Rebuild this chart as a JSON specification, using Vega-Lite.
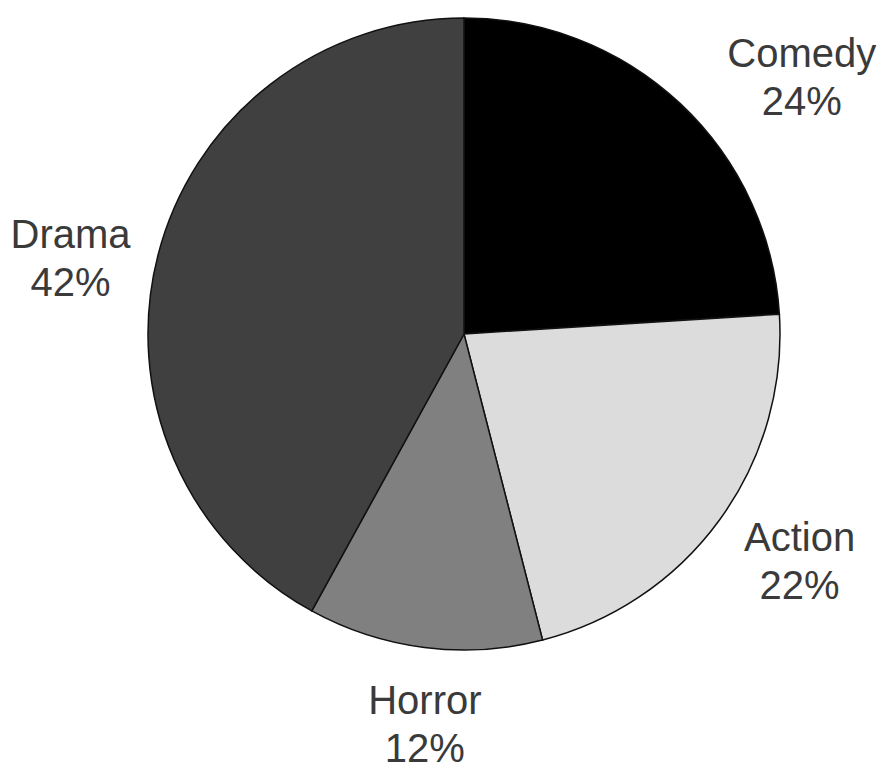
{
  "$schema": "https://vega.github.io/schema/vega-lite/v6.json",
  "width": 838,
  "height": 668,
  "padding": {"left": 45, "top": 0, "right": 0, "bottom": 101},
  "autosize": {"type": "none"},
  "background": "white",
  "view": {"stroke": null},
  "data": {
    "values": [
      {"genre": "Comedy", "pct": 24, "ord": 1, "label": ["Comedy", "24%"]},
      {"genre": "Action", "pct": 22, "ord": 2, "label": ["Action", "22%"]},
      {"genre": "Horror", "pct": 12, "ord": 3, "label": ["Horror", "12%"]},
      {"genre": "Drama", "pct": 42, "ord": 4, "label": ["Drama", "42%"]}
    ]
  },
  "encoding": {
    "theta": {"field": "pct", "type": "quantitative", "stack": true},
    "order": {"field": "ord", "type": "quantitative"}
  },
  "layer": [
    {
      "mark": {"type": "arc", "outerRadius": 316, "stroke": "#111111", "strokeWidth": 1.5},
      "encoding": {
        "color": {
          "field": "genre",
          "type": "nominal",
          "scale": {"domain": ["Comedy", "Action", "Horror", "Drama"], "range": ["#000000", "#dcdcdc", "#808080", "#404040"]},
          "legend": null
        }
      }
    },
    {
      "mark": {"type": "text", "radius": 400, "dx": 64, "dy": 13, "font": "Liberation Sans", "fontSize": 40, "lineHeight": 48, "fill": "#3a3a3a", "align": "center", "baseline": "middle"},
      "encoding": {"text": {"condition": {"test": "datum.genre === 'Comedy'", "field": "label"}, "value": ""}}
    },
    {
      "mark": {"type": "text", "radius": 400, "dx": 12, "dy": -30, "font": "Liberation Sans", "fontSize": 40, "lineHeight": 48, "fill": "#3a3a3a", "align": "center", "baseline": "middle"},
      "encoding": {"text": {"condition": {"test": "datum.genre === 'Action'", "field": "label"}, "value": ""}}
    },
    {
      "mark": {"type": "text", "radius": 400, "dx": 11, "dy": -29, "font": "Liberation Sans", "fontSize": 40, "lineHeight": 48, "fill": "#3a3a3a", "align": "center", "baseline": "middle"},
      "encoding": {"text": {"condition": {"test": "datum.genre === 'Horror'", "field": "label"}, "value": ""}}
    },
    {
      "mark": {"type": "text", "radius": 400, "dx": -6, "dy": 1, "font": "Liberation Sans", "fontSize": 40, "lineHeight": 48, "fill": "#3a3a3a", "align": "center", "baseline": "middle"},
      "encoding": {"text": {"condition": {"test": "datum.genre === 'Drama'", "field": "label"}, "value": ""}}
    }
  ]
}
